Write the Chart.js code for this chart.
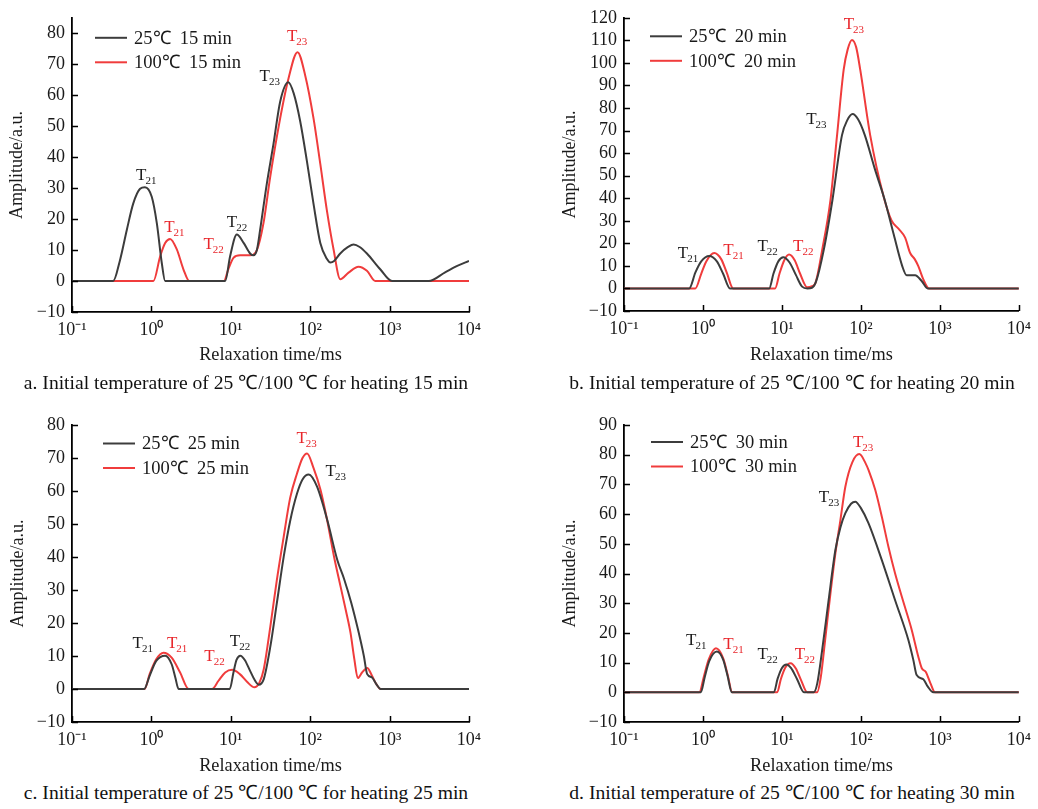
<!DOCTYPE html>
<html>
<head>
<meta charset="utf-8">
<script src="https://cdn.jsdelivr.net/npm/chart.js@4/dist/chart.umd.min.js"></script>
<style>
  body { margin: 0; background: #fff; width: 1038px; height: 809px; position: relative; overflow: hidden;
         font-family: "Liberation Serif", "Times New Roman", serif; }
  .panel { position: absolute; width: 519px; height: 380px; }
  .caption { position: absolute; font-size: 19.6px; line-height: 1; color: #111; white-space: nowrap;
             transform: translate(-50%, -50%); }
</style>
</head>
<body>
<div class="panel" style="left:0;top:0"><canvas id="chartA"></canvas></div>
<div class="panel" style="left:519px;top:0"><canvas id="chartB"></canvas></div>
<div class="panel" style="left:0;top:400px"><canvas id="chartC"></canvas></div>
<div class="panel" style="left:519px;top:400px"><canvas id="chartD"></canvas></div>
<div class="caption" style="left:246px;top:383px">a. Initial temperature of 25 ℃/100 ℃ for heating 15 min</div>
<div class="caption" style="left:792px;top:383px">b. Initial temperature of 25 ℃/100 ℃ for heating 20 min</div>
<div class="caption" style="left:246px;top:793px">c. Initial temperature of 25 ℃/100 ℃ for heating 25 min</div>
<div class="caption" style="left:792px;top:793px">d. Initial temperature of 25 ℃/100 ℃ for heating 30 min</div>

<script>
// x axis: relaxation time (ms), log decades
const xTicks = [0.1, 1, 10, 100, 1000, 10000];
const xTickLabels = ['10⁻¹', '10⁰', '10¹', '10²', '10³', '10⁴'];

// a. 15 min
const tau15_25 = [0.1, 0.33, 0.40, 0.49, 0.59, 0.72, 0.83, 1.01, 1.17, 1.35, 1.49, 8.5, 9.8, 11.9, 14.5, 17.5, 19.3, 21.3, 23.4, 28.4, 34.4, 41.9, 53, 62, 74.8, 90.8, 110, 134, 162, 180, 200, 239, 300, 352, 420, 518, 762, 1075, 3100, 5000, 7000, 10000];
const amp15_25 = [0, 0, 6.5, 16.5, 25, 29.8, 30.3, 27.2, 18.7, 5.9, 0, 0, 8, 15, 12.3, 8.9, 8.3, 10, 16.5, 31.4, 44.1, 58, 64.2, 60.6, 51.6, 38.8, 25, 12.3, 7.2, 6, 6.5, 8.9, 11, 11.8, 11, 8.9, 3.8, 0, 0, 2.8, 4.8, 6.5];
const tau15_100 = [0.1, 1.06, 1.29, 1.49, 1.72, 2.09, 2.53, 3.0, 8.2, 9.3, 10.8, 13.1, 17.5, 21.3, 25.8, 31.3, 41.9, 53.3, 69.2, 86.5, 110, 134, 162, 197, 239, 304, 406, 518, 660, 10000];
const amp15_100 = [0, 0, 8, 12.3, 13.6, 10.2, 3.8, 0, 0, 3.8, 7.5, 8.3, 8.3, 10, 18.7, 33.5, 52.6, 65.4, 73.9, 66.4, 52.6, 37.8, 22.9, 10.2, 0.6, 2.7, 4.6, 3.3, 0, 0];

// b. 20 min
const tau20_25 = [0.1, 0.67, 0.8, 0.95, 1.2, 1.5, 1.8, 2.2, 6.9, 7.8, 9, 10.4, 12.5, 15, 18, 21, 24, 27, 33.8, 43.5, 57.6, 67, 78.5, 92, 112, 150, 201, 260, 333, 380, 485, 588, 700, 10000];
const amp20_25 = [0, 0, 7, 12, 14.4, 12, 6.5, 0, 0, 6.5, 12, 13.8, 11.5, 6, 0.8, 0, 0.3, 3, 17, 39, 68, 74.5, 77.3, 75, 68, 53, 39, 24, 10, 5.8, 5.8, 3.3, 0, 0];
const tau20_100 = [0.1, 0.8, 0.95, 1.1, 1.39, 1.7, 2.0, 2.41, 8.2, 9.3, 10.7, 12.3, 14.5, 17, 20.9, 24, 26.6, 32.3, 41.1, 49.9, 60.5, 68, 77, 87, 98, 131, 193, 245, 299, 363, 420, 480, 533, 617, 728, 10000];
const amp20_100 = [0, 0, 6.5, 12, 15.7, 13, 7, 0, 0, 6.5, 12.5, 15, 12.5, 6.5, 0.5, 1, 2.5, 17, 39, 68, 97, 106, 110.2, 107, 97, 68, 41, 30, 26.5, 22.5, 15.7, 13, 9.9, 4, 0, 0];

// c. 25 min
const tau25_25 = [0.1, 0.81, 0.95, 1.15, 1.49, 1.8, 2.0, 2.2, 9.7, 10.8, 11.8, 13.2, 15, 17.5, 20, 22.4, 26, 31.5, 38, 46.4, 56, 68.4, 80, 96, 122, 164, 220, 266, 330, 400, 474, 522, 600, 680, 770, 10000];
const amp25_25 = [0, 0, 4, 8.5, 10.1, 7.5, 3.5, 0, 0, 5, 8.8, 10.1, 8.8, 5.5, 2.7, 1.3, 3, 12.9, 26, 40.1, 51, 59.3, 63.5, 65, 61.3, 51.2, 39, 33.5, 26, 18, 10, 4.5, 3.5, 1.5, 0, 0];
const tau25_100 = [0.1, 0.82, 0.95, 1.15, 1.42, 1.8, 2.3, 2.94, 5.8, 7, 8.5, 10.4, 13, 16, 19.8, 23, 26, 31.5, 38, 46.4, 56, 68.4, 80, 91.4, 110, 135, 164, 200, 241, 280, 322, 360, 398, 450, 522, 600, 680, 770, 10000];
const amp25_100 = [0, 0, 4.5, 9, 11, 9.5, 5, 0, 0, 2.5, 5, 5.8, 4.5, 2.2, 0.5, 2, 6, 19, 33, 46.2, 58, 65.4, 70, 71.4, 67, 60.3, 51, 40, 31.1, 24, 17, 9, 3.3, 5, 6.4, 4, 1.5, 0, 0];

// d. 30 min
const tau30_25 = [0.1, 0.94, 1.05, 1.2, 1.5, 1.8, 2.05, 2.32, 7.9, 8.8, 10, 11.4, 13, 15.5, 19, 25.3, 28, 32.3, 39, 47.5, 55, 63.5, 75, 85, 100, 125, 184, 271, 399, 460, 508, 617, 700, 824, 10000];
const amp30_25 = [0, 0, 5, 10.5, 13.7, 11, 5.5, 0, 0, 4.5, 8.2, 9.4, 8.2, 4.5, 0, 0, 3, 14.2, 31, 47.9, 55.5, 60.3, 63.5, 64.2, 62, 56.9, 44.5, 31, 17.6, 11, 5.8, 4.4, 2, 0, 0];
const tau30_100 = [0.1, 0.9, 1.02, 1.18, 1.46, 1.8, 2.05, 2.35, 8.7, 9.7, 11, 12.9, 15, 17.5, 20.9, 27.9, 31, 35.6, 41, 47.5, 55, 63.5, 78, 95.5, 115, 125, 152, 184, 223, 271, 360, 440, 533, 590, 661, 760, 867, 10000];
const amp30_100 = [0, 0, 5, 11, 14.8, 11.5, 6, 0, 0, 4.5, 8.3, 9.8, 8, 4, 0, 0, 5, 18.7, 33, 46.8, 58, 69.2, 77.5, 80.2, 77, 74.8, 68.1, 59.1, 49, 40, 28.8, 21, 12, 8.1, 6.9, 3, 0, 0];

// peak labels: [subscript, series (0 = 25℃, 1 = 100℃), time, amplitude]
const peaks15 = [['21', 0, 0.64, 32.5], ['21', 1, 1.45, 15.9], ['22', 1, 4.52, 10.2], ['22', 0, 8.9, 17.6], ['23', 0, 23, 64.6], ['23', 1, 51, 77.6]];
const peaks20 = [['21', 0, 0.48, 13.6], ['21', 1, 1.81, 15], ['22', 0, 4.89, 16.4], ['22', 1, 13.8, 16.4], ['23', 0, 20.3, 72.9], ['23', 1, 60.5, 114.9]];
const peaks25 = [['21', 0, 0.58, 12.4], ['21', 1, 1.57, 12.4], ['22', 1, 4.63, 8.4], ['22', 0, 9.7, 13.1], ['23', 1, 67, 74.5], ['23', 0, 156, 64.6]];
const peaks30 = [['21', 0, 0.61, 15.9], ['21', 1, 1.81, 14.5], ['22', 0, 4.89, 11.1], ['22', 1, 14.5, 11.1], ['23', 0, 29.3, 64.2], ['23', 1, 79.3, 82.7]];

const BLACK = '#3c3c3c';
const RED = '#f03c3c';
const TEXT_BLACK = '#1a1a1a';
const TEXT_RED = '#e8262b';
const FONT = '"Liberation Serif", "Times New Roman", serif';

const toPoints = (xs, ys) => xs.map((x, i) => ({ x: x, y: ys[i] }));

// tick marks pointing into the plot
const innerTicks = {
    id: 'innerTicks',
    afterDraw(chart) {
        const { ctx, chartArea, scales } = chart;
        ctx.save();
        ctx.strokeStyle = '#000';
        ctx.lineWidth = 1.5;
        ctx.beginPath();
        scales.x.ticks.forEach(t => {
            const px = Math.round(scales.x.getPixelForValue(t.value)) + 0.5;
            ctx.moveTo(px, chartArea.bottom);
            ctx.lineTo(px, chartArea.bottom - 6);
        });
        scales.y.ticks.forEach(t => {
            const py = Math.round(scales.y.getPixelForValue(t.value)) + 0.5;
            ctx.moveTo(chartArea.left, py);
            ctx.lineTo(chartArea.left + 6, py);
        });
        ctx.stroke();
        ctx.restore();
    }
};

function legendPlugin(dx, dy) {
    return {
        id: 'insideLegend',
        afterDraw(chart) {
            const { ctx, chartArea } = chart;
            ctx.save();
            chart.data.datasets.forEach((ds, i) => {
                const y = chartArea.top + dy + i * 24.5;
                const x0 = chartArea.left + dx;
                ctx.strokeStyle = ds.borderColor;
                ctx.lineWidth = 2;
                ctx.beginPath();
                ctx.moveTo(x0, y);
                ctx.lineTo(x0 + 32, y);
                ctx.stroke();
                ctx.fillStyle = TEXT_BLACK;
                ctx.font = '18.5px ' + FONT;
                ctx.textBaseline = 'middle';
                ctx.fillText(ds.label, x0 + 39, y + 1);
            });
            ctx.restore();
        }
    };
}

function peakPlugin(peaks) {
    return {
        id: 'peakLabels',
        afterDatasetsDraw(chart) {
            const { ctx, scales } = chart;
            ctx.save();
            ctx.textBaseline = 'alphabetic';
            peaks.forEach(([sub, series, t, a]) => {
                const px = scales.x.getPixelForValue(t);
                const py = scales.y.getPixelForValue(a);
                ctx.fillStyle = series === 0 ? TEXT_BLACK : TEXT_RED;
                ctx.font = '17px ' + FONT;
                ctx.fillText('T', px, py);
                const w = ctx.measureText('T').width;
                ctx.font = '11px ' + FONT;
                ctx.fillText(sub, px + w - 1, py + 4);
            });
            ctx.restore();
        }
    };
}

function makeChart(id, s) {
    return new Chart(document.getElementById(id), {
        type: 'line',
        data: {
            datasets: [
                { label: s.legend[0], data: toPoints(s.x25, s.y25), borderColor: BLACK },
                { label: s.legend[1], data: toPoints(s.x100, s.y100), borderColor: RED }
            ]
        },
        options: {
            responsive: true,
            maintainAspectRatio: false,
            animation: false,
            layout: { padding: { left: 0, right: s.padRight, top: s.padTop, bottom: 0 } },
            elements: {
                point: { radius: 0 },
                line: { borderWidth: 2, cubicInterpolationMode: 'monotone', fill: false }
            },
            plugins: { legend: { display: false }, tooltip: { enabled: false } },
            scales: {
                x: {
                    type: 'logarithmic',
                    min: 0.1,
                    max: 10000,
                    afterBuildTicks: axis => { axis.ticks = xTicks.map(v => ({ value: v })); },
                    afterFit: axis => { axis.height = s.xHeight; },
                    grid: { display: false, drawTicks: false },
                    border: { display: true, color: '#000', width: 1.8 },
                    ticks: {
                        autoSkip: false, maxRotation: 0, padding: 7, color: TEXT_BLACK,
                        font: { family: FONT, size: 18 },
                        callback: (v, i) => xTickLabels[i]
                    },
                    title: {
                        display: true, text: 'Relaxation time/ms', color: TEXT_BLACK,
                        font: { family: FONT, size: 18.3 },
                        padding: { top: 0, bottom: s.xTitlePad }
                    }
                },
                y: {
                    min: -10,
                    max: s.yMax,
                    afterFit: axis => { axis.width = s.yWidth; },
                    grid: { display: false, drawTicks: false },
                    border: { display: true, color: '#000', width: 1.8 },
                    ticks: {
                        stepSize: 10, includeBounds: false, autoSkip: false, padding: 7, color: TEXT_BLACK,
                        font: { family: FONT, size: 18 },
                        callback: v => (v < 0 ? '−' + Math.abs(v) : String(v))
                    },
                    title: {
                        display: true, text: 'Amplitude/a.u.', color: TEXT_BLACK,
                        font: { family: FONT, size: 18 },
                        padding: { top: s.yTitlePad, bottom: 0 }
                    }
                }
            }
        },
        plugins: [innerTicks, legendPlugin(s.legendDx, s.legendDy), peakPlugin(s.peaks)]
    });
}

makeChart('chartA', {
    x25: tau15_25, y25: amp15_25, x100: tau15_100, y100: amp15_100, peaks: peaks15,
    legend: ['25℃  15 min', '100℃  15 min'],
    yMax: 85, yWidth: 72, padRight: 50, padTop: 14, xHeight: 68, xTitlePad: 14, yTitlePad: 6,
    legendDx: 23, legendDy: 20
});
makeChart('chartB', {
    x25: tau20_25, y25: amp20_25, x100: tau20_100, y100: amp20_100, peaks: peaks20,
    legend: ['25℃  20 min', '100℃  20 min'],
    yMax: 120, yWidth: 105, padRight: 17.5, padTop: 15, xHeight: 69, xTitlePad: 14, yTitlePad: 40,
    legendDx: 26, legendDy: 18.5
});
makeChart('chartC', {
    x25: tau25_25, y25: amp25_25, x100: tau25_100, y100: amp25_100, peaks: peaks25,
    legend: ['25℃  25 min', '100℃  25 min'],
    yMax: 80, yWidth: 72, padRight: 50, padTop: 25, xHeight: 58, xTitlePad: 2.5, yTitlePad: 7.5,
    legendDx: 31, legendDy: 18.5
});
makeChart('chartD', {
    x25: tau30_25, y25: amp30_25, x100: tau30_100, y100: amp30_100, peaks: peaks30,
    legend: ['25℃  30 min', '100℃  30 min'],
    yMax: 90, yWidth: 105, padRight: 17, padTop: 25, xHeight: 58, xTitlePad: 2.5, yTitlePad: 40,
    legendDx: 27, legendDy: 17
});
</script>
</body>
</html>
